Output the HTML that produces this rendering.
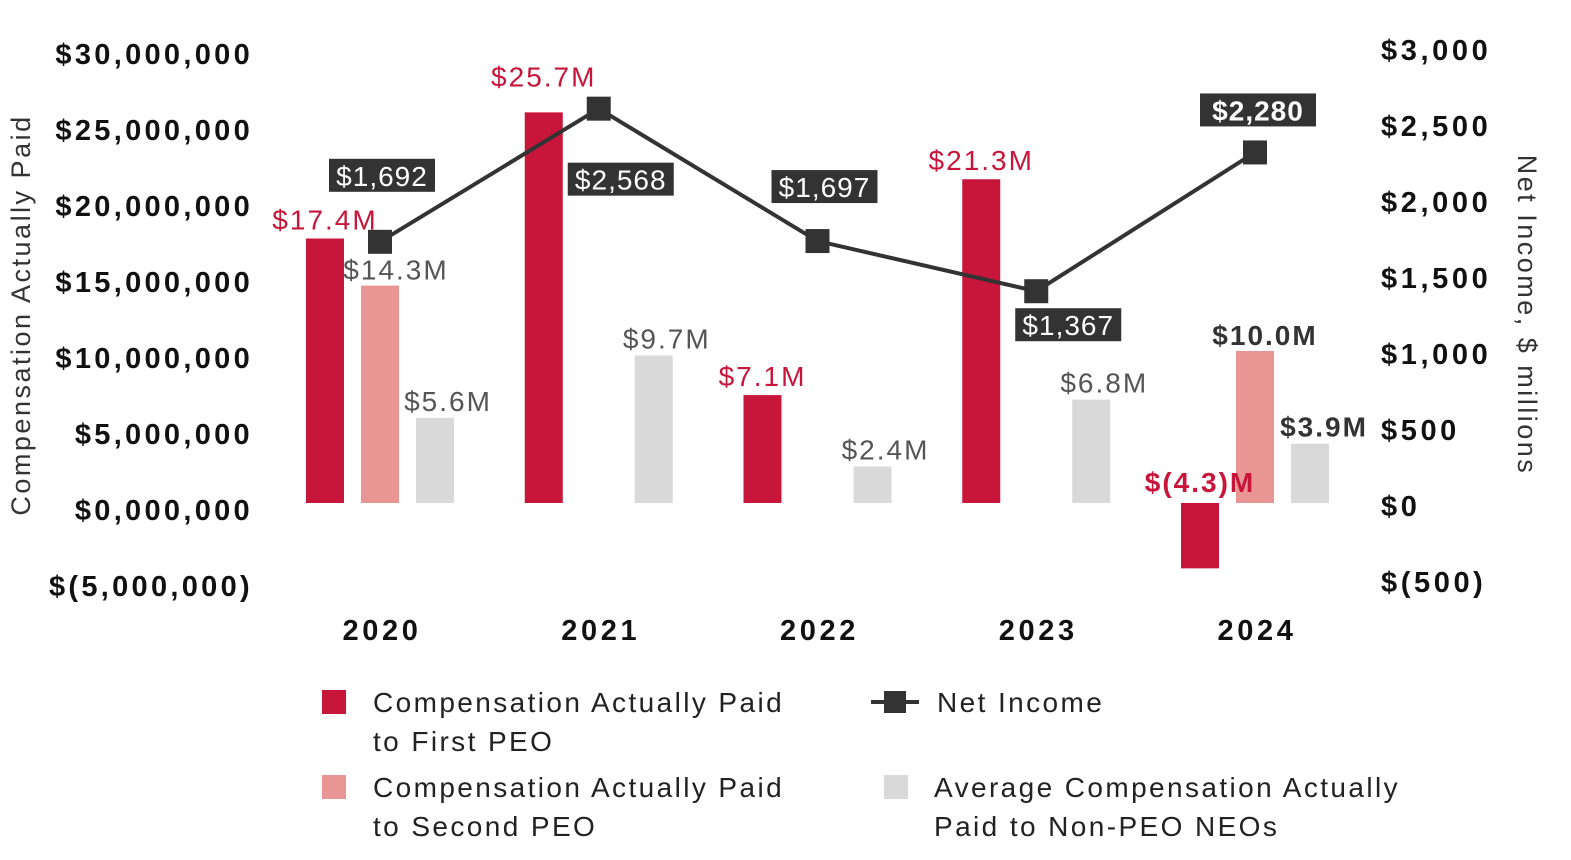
<!DOCTYPE html>
<html><head><meta charset="utf-8"><style>
body{margin:0;background:#fff;}
svg text{font-family:"Liberation Sans",sans-serif;}
</style></head><body>
<svg id="chart" width="1571" height="855" viewBox="0 0 1571 855" xmlns="http://www.w3.org/2000/svg">
<g id="axes"></g><g id="bars"></g><g id="line"></g><g id="labels"></g>
<text transform="translate(30,315) rotate(-90)" text-anchor="middle" font-size="27" letter-spacing="2.5" fill="#333">Compensation Actually Paid</text>
<text transform="translate(1518,315) rotate(90)" text-anchor="middle" font-size="27" letter-spacing="2.5" fill="#333">Net Income, $ millions</text>
<g font-size="28" fill="#222" letter-spacing="2.4">
<rect x="322" y="690" width="24" height="24" fill="#c8163b"/>
<text x="373" y="712">Compensation Actually Paid</text>
<text x="373" y="751">to First PEO</text>
<rect x="322" y="775" width="24" height="24" fill="#e89593"/>
<text x="373" y="797">Compensation Actually Paid</text>
<text x="373" y="836">to Second PEO</text>
<line x1="871" y1="702" x2="919" y2="702" stroke="#333" stroke-width="4"/>
<rect x="884" y="691" width="22" height="22" fill="#333"/>
<text x="937" y="712">Net Income</text>
<rect x="884" y="775" width="24" height="24" fill="#d9d9d9"/>
<text x="934" y="797">Average Compensation Actually</text>
<text x="934" y="836">Paid to Non-PEO NEOs</text>
</g>
</svg>
<script>
const years=["2020","2021","2022","2023","2024"];
const firstPeo=[17.4,25.7,7.1,21.3,-4.3];
const secondPeo=[14.3,null,null,null,10.0];
const nonPeo=[5.6,9.7,2.4,6.8,3.9];
const netIncome=[1692,2568,1697,1367,2280];
const leftTicks=[30,25,20,15,10,5,0,-5];
const leftTickLabels=["$30,000,000","$25,000,000","$20,000,000","$15,000,000","$10,000,000","$5,000,000","$0,000,000","$(5,000,000)"];
const rightTicks=[3000,2500,2000,1500,1000,500,0,-500];
const rightTickLabels=["$3,000","$2,500","$2,000","$1,500","$1,000","$500","$0","$(500)"];
const NS="http://www.w3.org/2000/svg";
const yL=v=>503-v*15.2;
const yR=v=>499-v*0.152;
const xC=i=>380+i*218.75;
function mk(tag,attrs,parent,txt){const e=document.createElementNS(NS,tag);for(const k in attrs)e.setAttribute(k,attrs[k]);if(txt!=null)e.textContent=txt;parent.appendChild(e);return e;}
const gA=document.getElementById('axes'),gB=document.getElementById('bars'),gL=document.getElementById('line'),gT=document.getElementById('labels');
leftTicks.forEach((t,i)=>{const e=mk('text',{x:253,y:yL(t)+17,'text-anchor':'end','font-size':'29','font-weight':'bold','letter-spacing':'3.3',fill:'#111'},gA,leftTickLabels[i]);

});
rightTicks.forEach((t,i)=>{const e=mk('text',{x:1381,y:yR(t)+17,'font-size':'29','font-weight':'bold','letter-spacing':'3.6',fill:'#111'},gA,rightTickLabels[i]);

});
years.forEach((y,i)=>{const e=mk('text',{x:xC(i)+2,y:640,'text-anchor':'middle','font-size':'29','font-weight':'bold','letter-spacing':'3.6',fill:'#111'},gA,y);

});
const bw=38;
function fmt(v){return v<0?"$("+(-v).toFixed(1)+")M":"$"+v.toFixed(1)+"M";}
function bar(v,cx,fill,name,lblColor,bold,lx,anchor,dy){
 if(v==null)return;
 const top=Math.min(yL(v),yL(0)),h=Math.abs(yL(v)-yL(0));
 const r=mk('rect',{x:cx-bw/2,y:top,width:bw,height:h,fill:fill},gB);
 
 
 const ty=v<0?yL(0)-11:yL(v)-dy;
 const t=mk('text',{x:lx,y:ty,'text-anchor':anchor||'middle','font-size':'28','font-weight':bold?'bold':'normal','letter-spacing':'2',fill:lblColor},gT,fmt(v));
 
 
}
years.forEach((y,i)=>{
 const c=xC(i),last=i===4;
 bar(firstPeo[i],c-55,'#c8163b','bar-first-peo-'+y,'#c8163b',last,c-55,'middle',i===1?26:9);
 bar(secondPeo[i],c,'#e89593','bar-second-peo-'+y,last?'#333':'#555',last,c+(last?10:16),'middle',6);
 bar(nonPeo[i],c+55,'#d9d9d9','bar-non-peo-'+y,last?'#333':'#555',last,c+(last?69:68),'middle',7);
});
const pts=netIncome.map((v,i)=>xC(i)+','+yR(v)).join(' ');
const pl=mk('polyline',{points:pts,fill:'none',stroke:'#333','stroke-width':'4'},gL);


const boxOff=[[2,-66],[22,71],[7,-54],[32,34],[3,-42]];
netIncome.forEach((v,i)=>{
 const cx=xC(i),cy=yR(v);
 const m=mk('rect',{x:cx-12,y:cy-12,width:24,height:24,fill:'#333'},gL);
 
 
 const bx=cx+boxOff[i][0],by=cy+boxOff[i][1];
 const txt="$"+v.toLocaleString('en-US');
 const w=i===4?116:106;
 const b=mk('rect',{x:bx-w/2,y:by-17,width:w,height:33,fill:'#333'},gT);
 
 
 const t=mk('text',{x:bx,y:by+10,'text-anchor':'middle','font-size':'28','font-weight':i===4?'bold':'normal','letter-spacing':'1',fill:'#fff'},gT,txt);
 
 
});
</script>
</body></html>
